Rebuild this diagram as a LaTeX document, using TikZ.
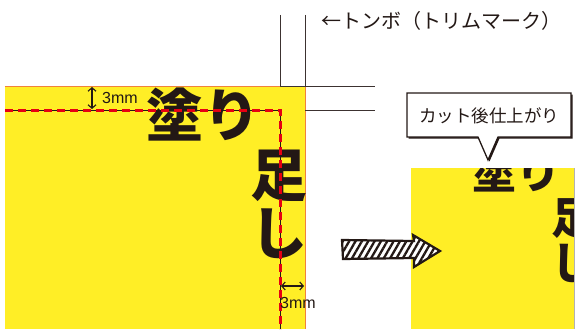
\documentclass[tikz,border=0pt]{standalone}
\usepackage{fontspec}
\setmainfont{Liberation Sans}
\newfontfamily\jp{Noto Sans CJK JP}
\usetikzlibrary{arrows.meta,patterns.meta}
\definecolor{ylw}{RGB}{255,238,38}
\definecolor{edgec}{RGB}{240,130,60}
\definecolor{redc}{RGB}{230,0,18}
\definecolor{ink}{RGB}{35,24,21}
\definecolor{cropc}{RGB}{60,50,48}
\begin{document}
\begin{tikzpicture}[x=1pt,y=-1pt,
  crop/.style={draw=cropc,line width=1pt},
  trimred/.style={draw=redc,line width=3pt,dash pattern=on 8pt off 5pt},
  bigL/.style={inner sep=0pt,text=ink,font=\jp\bfseries\fontsize{57}{57}\selectfont},
  bigR/.style={inner sep=0pt,text=ink,font=\jp\bfseries\fontsize{44}{44}\selectfont},
  dim/.style={draw=ink,line width=1.1pt,{Straight Barb[length=3.5pt,width=8pt]}-{Straight Barb[length=3.5pt,width=8pt]}},
  dimtxt/.style={inner sep=0pt,text=ink,font=\fontsize{16}{16}\selectfont},
  lbl/.style={inner sep=0pt,text=ink,font=\jp\fontsize{20}{20}\selectfont}]
\useasboundingbox (0,0) rectangle (575,329);
% left bleed area
\fill[ylw] (5,86) rectangle (305,329);
\draw[edgec,line width=1pt] (5,86) -- (305,86) -- (305,329);
% crop marks
\draw[crop] (280,15) -- (280,86) -- (375,86);
\draw[crop] (305,15) -- (305,86);
\draw[crop] (305,110) -- (375,110);
% big text
\node[bigL,anchor=west] (nuri) at (146,115) {塗り};
\node[bigL] (ashi1) at (279,176) {足};
\node[bigL] (ashi2) at (279,234) {し};
% trim line
\draw[ink,line width=0.6pt] (5,110) -- (280,110) -- (280,329);
\draw[trimred] (5,110) -- (280,110) -- (280,329);
% dimensions
\coordinate (d1a) at (92,87);
\coordinate (d1b) at (92,109);
\draw[dim] (d1a) -- (d1b);
\node[dimtxt,anchor=west] (d1t) at (102,98) {3mm};
\coordinate (d2a) at (281,286);
\coordinate (d2b) at (304,286);
\draw[dim] (d2a) -- (d2b);
\node[dimtxt,anchor=west] (d2t) at (280,303) {3mm};
% top label
\node[lbl,anchor=west] (tombo) at (321,21) {←トンボ（トリムマーク）};
% finished piece
\begin{scope}
\clip (411,168) rectangle (574,329);
\fill[ylw] (411,168) rectangle (574,329);
\node[bigR,anchor=west] (nuriR) at (472.5,172) {塗り};
\node[bigR] (ashiR1) at (573,219) {足};
\node[bigR] (ashiR2) at (573,263) {し};
\end{scope}
\draw[gray!60,line width=0.6pt] (574,168) -- (574,329);
% callout
\fill[ink] (408.5,94.5) -- (572.5,94.5) -- (572.5,138.5) -- (499.5,138.5) -- (489.5,161.5) -- (479.5,138.5) -- (408.5,138.5) -- cycle;
\draw[ink,fill=white,line width=1.3pt] (407,93) -- (571,93) -- (571,137) -- (498,137) -- (488,160) -- (478,137) -- (407,137) -- cycle;
\node[inner sep=0pt,text=ink,font=\jp\fontsize{17.5}{17.5}\selectfont] (callout) at (489,116) {カット後仕上がり};
% hatched arrow
\draw[ink,line width=2.2pt,line join=miter,preaction={fill=white},
  pattern={Lines[angle=60,distance=5.5pt,line width=2.3pt]},pattern color=ink]
  (342,240) -- (414,241) -- (413,235) -- (440,251) -- (414,267) -- (414,258) -- (343,259) -- cycle;
\end{tikzpicture}
\end{document}
